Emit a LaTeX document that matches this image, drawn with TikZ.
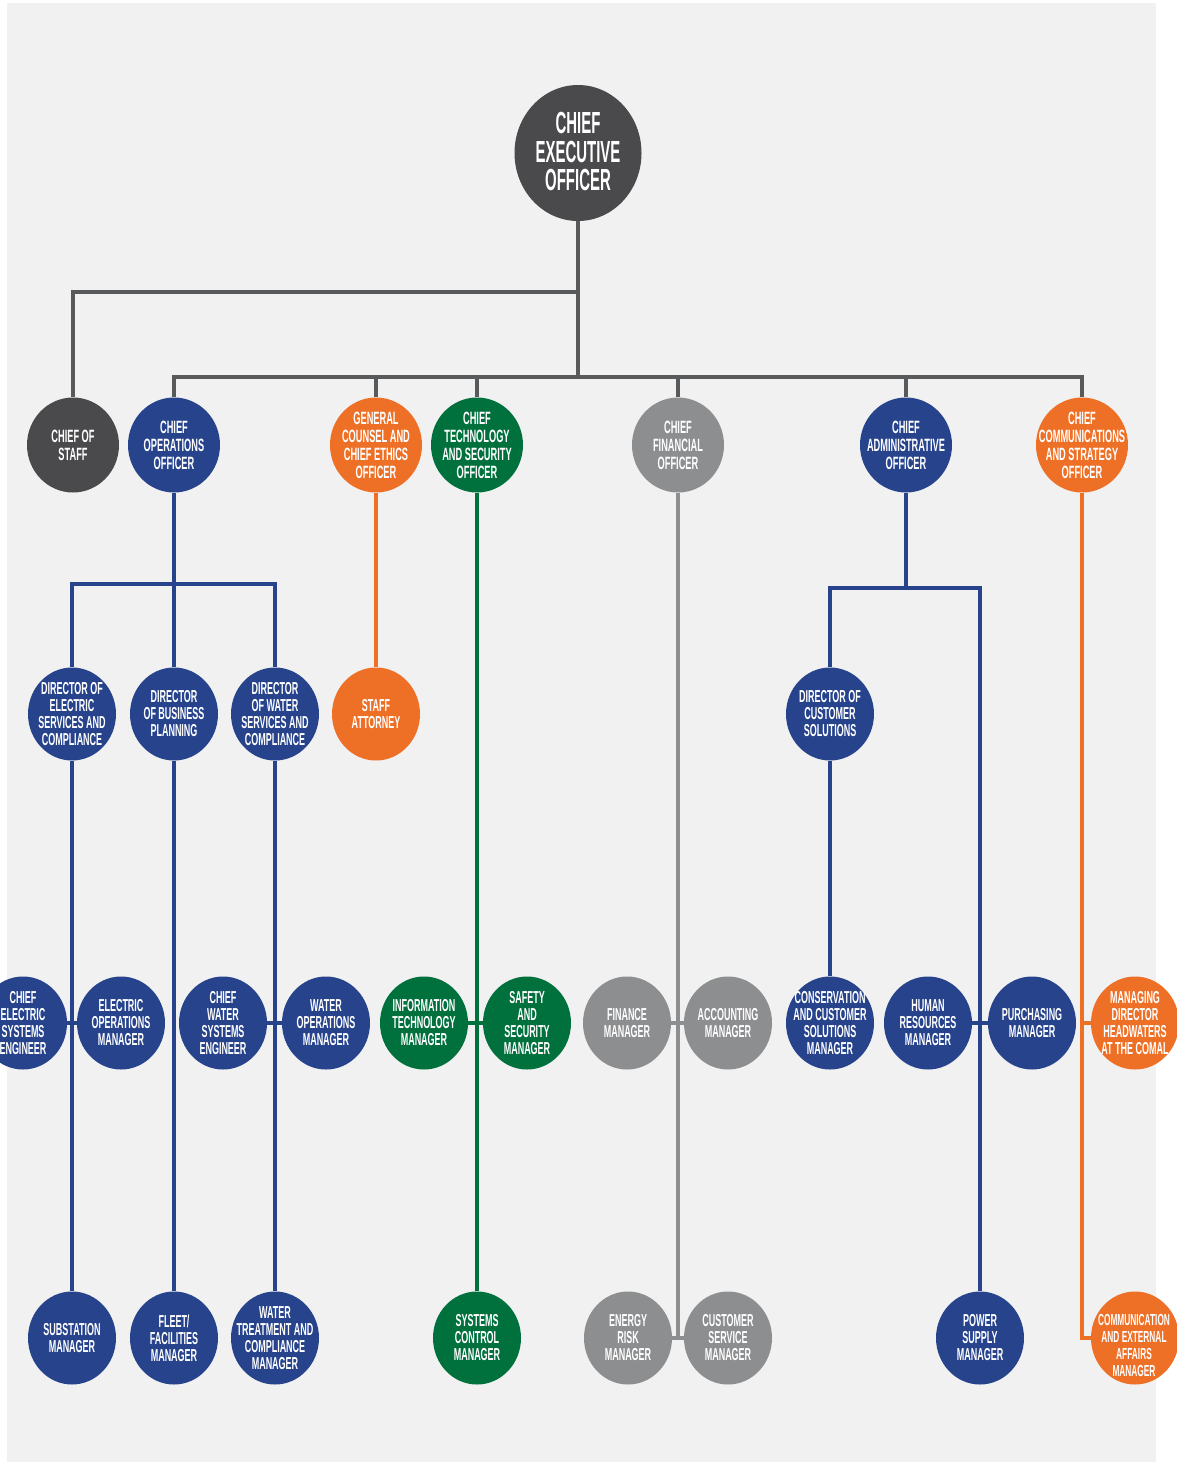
\documentclass[tikz,border=0pt]{standalone}
\usepackage{fontspec}
\usetikzlibrary{shapes.geometric}
\newfontfamily\condf{Liberation Sans}[FakeStretch=0.52]
\newfontfamily\condceo{Liberation Sans}[FakeStretch=0.49]
\definecolor{cblue}{HTML}{26438C}
\definecolor{corange}{HTML}{EE7026}
\definecolor{cgreen}{HTML}{00703D}
\definecolor{cgray}{HTML}{8D8E90}
\definecolor{cdark}{HTML}{4A4A4C}
\definecolor{cline}{HTML}{58595B}
\definecolor{cbg}{HTML}{F1F1F1}
\pgfdeclarelayer{bgl}
\pgfsetlayers{bgl,main}
\tikzset{
  bub/.style={ellipse, draw=none, minimum width=88pt, minimum height=93pt, inner sep=0pt},
  bubtop/.style={ellipse, draw=none, minimum width=92pt, minimum height=95pt, inner sep=0pt},
  lbl/.style={text=white, align=center, inner sep=0pt, font=\condf\bfseries\fontsize{17.3}{17}\selectfont},
  lbltop/.style={text=white, align=center, inner sep=0pt, font=\condf\bfseries\fontsize{17.8}{18}\selectfont},
  lblceo/.style={text=white, align=center, inner sep=0pt, font=\condceo\bfseries\fontsize{30.5}{28.5}\selectfont},
  gl/.style={draw=cline, line width=4pt},
  bl/.style={draw=cblue, line width=4pt},
  ol/.style={draw=corange, line width=4pt},
  grl/.style={draw=cgreen, line width=4pt},
  gyl/.style={draw=cgray, line width=4pt},
}
\begin{document}
\begin{tikzpicture}[x=1pt,y=-1pt]
\useasboundingbox (0,0) rectangle (1177,1462);
% CEO
\node[ellipse, minimum width=127pt, minimum height=136pt, inner sep=0pt, fill=cdark,
  label={[lblceo,yshift=1.5pt]center:{CHIEF\\EXECUTIVE\\OFFICER}}] (ceo) at (578,153) {};
% Row 1
\node[bubtop, fill=cdark, label={[lbltop]center:{CHIEF OF\\STAFF}}] (cos) at (73,445) {};
\node[bubtop, fill=cblue, label={[lbltop]center:{CHIEF\\OPERATIONS\\OFFICER}}] (coo) at (174,445) {};
\node[bubtop, fill=corange, label={[lbltop]center:{GENERAL\\COUNSEL AND\\CHIEF ETHICS\\OFFICER}}] (gc) at (376,445) {};
\node[bubtop, fill=cgreen, label={[lbltop]center:{CHIEF\\TECHNOLOGY\\AND SECURITY\\OFFICER}}] (ctso) at (477,445) {};
\node[bubtop, fill=cgray, label={[lbltop]center:{CHIEF\\FINANCIAL\\OFFICER}}] (cfo) at (678,445) {};
\node[bubtop, fill=cblue, label={[lbltop]center:{CHIEF\\ADMINISTRATIVE\\OFFICER}}] (cao) at (906,445) {};
\node[bubtop, fill=corange, label={[lbltop]center:{CHIEF\\COMMUNICATIONS\\AND STRATEGY\\OFFICER}}] (ccso) at (1082,445) {};
% Row 2
\node[bub, fill=cblue, label={[lbl]center:{DIRECTOR OF\\ELECTRIC\\SERVICES AND\\COMPLIANCE}}] (des) at (72,714) {};
\node[bub, fill=cblue, label={[lbl]center:{DIRECTOR\\OF BUSINESS\\PLANNING}}] (dbp) at (174,714) {};
\node[bub, fill=cblue, label={[lbl]center:{DIRECTOR\\OF WATER\\SERVICES AND\\COMPLIANCE}}] (dws) at (275,714) {};
\node[bub, fill=corange, label={[lbl]center:{STAFF\\ATTORNEY}}] (sa) at (376,714) {};
\node[bub, fill=cblue, label={[lbl]center:{DIRECTOR OF\\CUSTOMER\\SOLUTIONS}}] (dcs) at (830,714) {};
% Row 3
\node[bub, fill=cblue, label={[lbl]center:{CHIEF\\ELECTRIC\\SYSTEMS\\ENGINEER}}] (cese) at (23,1023) {};
\node[bub, fill=cblue, label={[lbl]center:{ELECTRIC\\OPERATIONS\\MANAGER}}] (eom) at (121,1023) {};
\node[bub, fill=cblue, label={[lbl]center:{CHIEF\\WATER\\SYSTEMS\\ENGINEER}}] (cwse) at (223,1023) {};
\node[bub, fill=cblue, label={[lbl]center:{WATER\\OPERATIONS\\MANAGER}}] (wom) at (326,1023) {};
\node[bub, fill=cgreen, label={[lbl]center:{INFORMATION\\TECHNOLOGY\\MANAGER}}] (itm) at (424,1023) {};
\node[bub, fill=cgreen, label={[lbl]center:{SAFETY\\AND\\SECURITY\\MANAGER}}] (ssm) at (527,1023) {};
\node[bub, fill=cgray, label={[lbl]center:{FINANCE\\MANAGER}}] (fm) at (627,1023) {};
\node[bub, fill=cgray, label={[lbl]center:{ACCOUNTING\\MANAGER}}] (am) at (728,1023) {};
\node[bub, fill=cblue, label={[lbl]center:{CONSERVATION\\AND CUSTOMER\\SOLUTIONS\\MANAGER}}] (ccsm) at (830,1023) {};
\node[bub, fill=cblue, label={[lbl]center:{HUMAN\\RESOURCES\\MANAGER}}] (hrm) at (928,1023) {};
\node[bub, fill=cblue, label={[lbl]center:{PURCHASING\\MANAGER}}] (pm) at (1032,1023) {};
\node[bub, fill=corange, label={[lbl]center:{MANAGING\\DIRECTOR\\HEADWATERS\\AT THE COMAL}}] (md) at (1135,1023) {};
% Row 4
\node[bub, fill=cblue, label={[lbl]center:{SUBSTATION\\MANAGER}}] (sub) at (72,1338) {};
\node[bub, fill=cblue, label={[lbl]center:{FLEET/\\FACILITIES\\MANAGER}}] (ffm) at (174,1338) {};
\node[bub, fill=cblue, label={[lbl]center:{WATER\\TREATMENT AND\\COMPLIANCE\\MANAGER}}] (wtc) at (275,1338) {};
\node[bub, fill=cgreen, label={[lbl]center:{SYSTEMS\\CONTROL\\MANAGER}}] (scm) at (477,1338) {};
\node[bub, fill=cgray, label={[lbl]center:{ENERGY\\RISK\\MANAGER}}] (erm) at (628,1338) {};
\node[bub, fill=cgray, label={[lbl]center:{CUSTOMER\\SERVICE\\MANAGER}}] (csm) at (728,1338) {};
\node[bub, fill=cblue, label={[lbl]center:{POWER\\SUPPLY\\MANAGER}}] (psm) at (980,1338) {};
\node[bub, fill=corange, label={[lbl,font=\condf\bfseries\fontsize{16}{17}\selectfont,yshift=-7pt,xshift=-1pt]center:{COMMUNICATION\\AND EXTERNAL\\AFFAIRS\\MANAGER}}] (ceam) at (1135,1338) {};
% junctions
\coordinate (j1) at (578,292);
\coordinate (j2) at (578,377);
\coordinate (b1) at (174,584);
\coordinate (a1) at (906,588);
\coordinate (c1) at (678,1340);
\begin{pgfonlayer}{bgl}
\fill[cbg] (7,3) rectangle (1156,1462);
% CEO connectors
\draw[gl] (ceo) -- (j2);
\draw[gl] (j1) -| (cos);
\draw[gl] (coo) |- (j2) -| (ccso);
\foreach \n in {gc,ctso,cfo,cao} \draw[gl] (\n) -- (\n |- j2);
% COO
\draw[bl] (coo) -- (dbp);
\draw[bl] (des) |- (b1) -| (dws);
\draw[bl] (des) -- (sub);
\draw[bl] (dbp) -- (ffm);
\draw[bl] (dws) -- (wtc);
\draw[bl] (cese) -- (eom);
\draw[bl] (cwse) -- (wom);
% GC
\draw[ol] (gc) -- (sa);
% CTSO
\draw[grl] (ctso) -- (scm);
\draw[grl] (itm) -- (ssm);
% CFO
\draw[gyl] (cfo) -- (c1);
\draw[gyl] (fm) -- (am);
\draw[gyl] (erm) -- (csm);
% CAO
\draw[bl] (cao) -- (a1);
\draw[bl] (dcs) |- (a1) -| (psm);
\draw[bl] (dcs) -- (ccsm);
\draw[bl] (hrm) -- (pm);
% CCSO
\draw[ol] (ccso) |- (ceam);
\draw[ol] (ccso |- md) -- (md);
\end{pgfonlayer}
\end{tikzpicture}
\end{document}
